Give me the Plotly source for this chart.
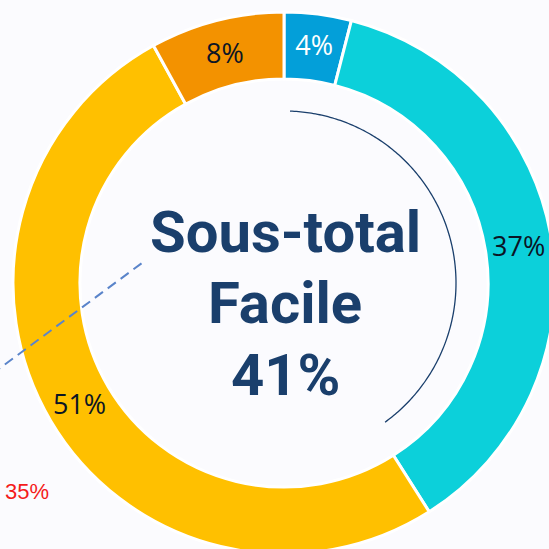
import numpy as np
import plotly.graph_objects as go

# ---- data ----
categories = ["Catégorie A", "Catégorie B", "Catégorie C", "Catégorie D"]
values = [4, 37, 51, 8]
slice_colors = ["#039FD9", "#0CD0DA", "#FFC000", "#F39200"]
label_colors = ["#FFFFFF", "#0B1525", "#0B1525", "#0B1525"]
center_lines = ["Sous-total", "Facile", "41%"]
side_label = "35%"
arc_theta = [2, 144]   # degrees, clockwise from 12 o'clock
arc_radius = 172       # in units where outer ring radius = 271
ring_outer = 271

W, H = 560, 560
BG = "#FBFBFE"
NAVY = "#1A3F6C"

def px(x):
    return x / W

def py(y):
    return (H - y) / H

# pie geometry (pixel): center (284, 283), outer radius 271
cx, cy, R = 284, 283, ring_outer
dom_x = [px(cx - R), px(cx + R)]
dom_y = [py(cy + R), py(cy - R)]

fig = go.Figure()
fig.add_trace(go.Pie(
    labels=categories,
    values=values,
    sort=False,
    direction="clockwise",
    rotation=0,
    hole=0.753,
    marker=dict(colors=slice_colors, line=dict(color="#FFFFFF", width=3)),
    textinfo="percent",
    texttemplate="%{percent:.0%}",
    textposition="inside",
    insidetextorientation="horizontal",
    insidetextfont=dict(family="Open Sans", size=27, color=label_colors),
    showlegend=False,
    domain=dict(x=dom_x, y=dom_y),
    hoverinfo="skip",
))

theta = np.linspace(arc_theta[0], arc_theta[1], 200)
fig.add_trace(go.Scatterpolar(
    r=[arc_radius] * len(theta),
    theta=theta,
    mode="lines",
    line=dict(color=NAVY, width=1.3),
    showlegend=False,
    hoverinfo="skip",
    subplot="polar",
))

fig.update_layout(
    width=W, height=H,
    margin=dict(l=0, r=0, t=0, b=0, pad=0),
    paper_bgcolor=BG,
    plot_bgcolor=BG,
    polar=dict(
        domain=dict(x=dom_x, y=dom_y),
        bgcolor="rgba(0,0,0,0)",
        radialaxis=dict(range=[0, ring_outer], visible=False, showgrid=False),
        angularaxis=dict(rotation=90, direction="clockwise", visible=False, showgrid=False),
    ),
)

# centre text
ys = [232, 303, 375]
for txt, y in zip(center_lines, ys):
    fig.add_annotation(
        text=f"<b>{txt}</b>", x=px(285), y=py(y), xref="paper", yref="paper",
        xanchor="center", yanchor="middle", showarrow=False,
        font=dict(family="Roboto", size=58, color=NAVY),
    )

# side label
fig.add_annotation(
    text=side_label, x=px(27), y=py(491), xref="paper", yref="paper",
    xanchor="center", yanchor="middle", showarrow=False,
    font=dict(family="Liberation Sans", size=22, color="#F41B1B"),
)

# dashed leader line
fig.add_shape(
    type="line", xref="paper", yref="paper",
    x0=px(-8), y0=py(374), x1=px(142), y1=py(263),
    line=dict(color="#5A84CA", width=2, dash="10px,6px"),
)

fig.write_html(
    "out.html",
    config={"displayModeBar": False},
    post_script="document.body.style.margin='0';document.body.style.overflow='hidden';document.documentElement.style.overflow='hidden';",
)
